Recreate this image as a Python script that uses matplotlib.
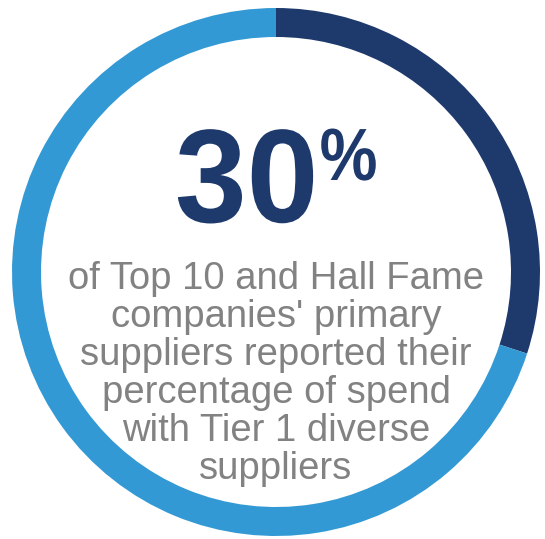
import matplotlib.pyplot as plt
from matplotlib.font_manager import FontProperties
from matplotlib.patches import PathPatch
from matplotlib.text import TextPath
from matplotlib.transforms import Affine2D

# Частка постачальників, що звітували
share = [30, 70]
ring_colors = ['#1e3a6d', '#3399d4']
headline = '30'
headline_sign = '%'
caption_lines = [
    "of Top 10 and Hall Fame",
    "companies' primary",
    "suppliers reported their",
    "percentage of spend",
    "with Tier 1 diverse",
    "suppliers",
]

W, H = 545, 539
fig = plt.figure(figsize=(W / 100, H / 100), dpi=100)
ax = fig.add_axes([0, 0, 1, 1])

# Кільце (вісь y перевернута, тому старт з -90 і проти годинникової в даних)
cx, cy, r = 276, 272, 264
ax.pie(share, colors=ring_colors, startangle=-90, counterclock=True,
       center=(cx, cy), radius=r, wedgeprops=dict(width=29, linewidth=0))

ax.set_xlim(0, W)
ax.set_ylim(H, 0)
ax.set_aspect('equal')
ax.axis('off')


def bold_path_text(s, x, y, size, squeeze=1.0, color='#1e3a6d'):
    # жирний текст контуром, щоб можна було звузити по горизонталі
    fp = FontProperties(family='Liberation Sans', weight='bold')
    tp = TextPath((0, 0), s, size=size, prop=fp)
    bb = tp.get_extents()
    tr = Affine2D().translate(-(bb.x0 + bb.x1) / 2, 0).scale(squeeze, -1).translate(x, y)
    ax.add_patch(PathPatch(tr.transform_path(tp), facecolor=color, edgecolor='none'))


# Велике число
bold_path_text(headline, 245.5, 222, 133, squeeze=0.97)
bold_path_text(headline_sign, 348.5, 180, 74, squeeze=0.88)

# Підпис
for i, line in enumerate(caption_lines):
    ax.text(cx, 289 + i * 38, line, fontsize=27.5, color='#828282',
            family='Liberation Sans', ha='center', va='baseline')

fig.savefig('out.png', dpi=100)
